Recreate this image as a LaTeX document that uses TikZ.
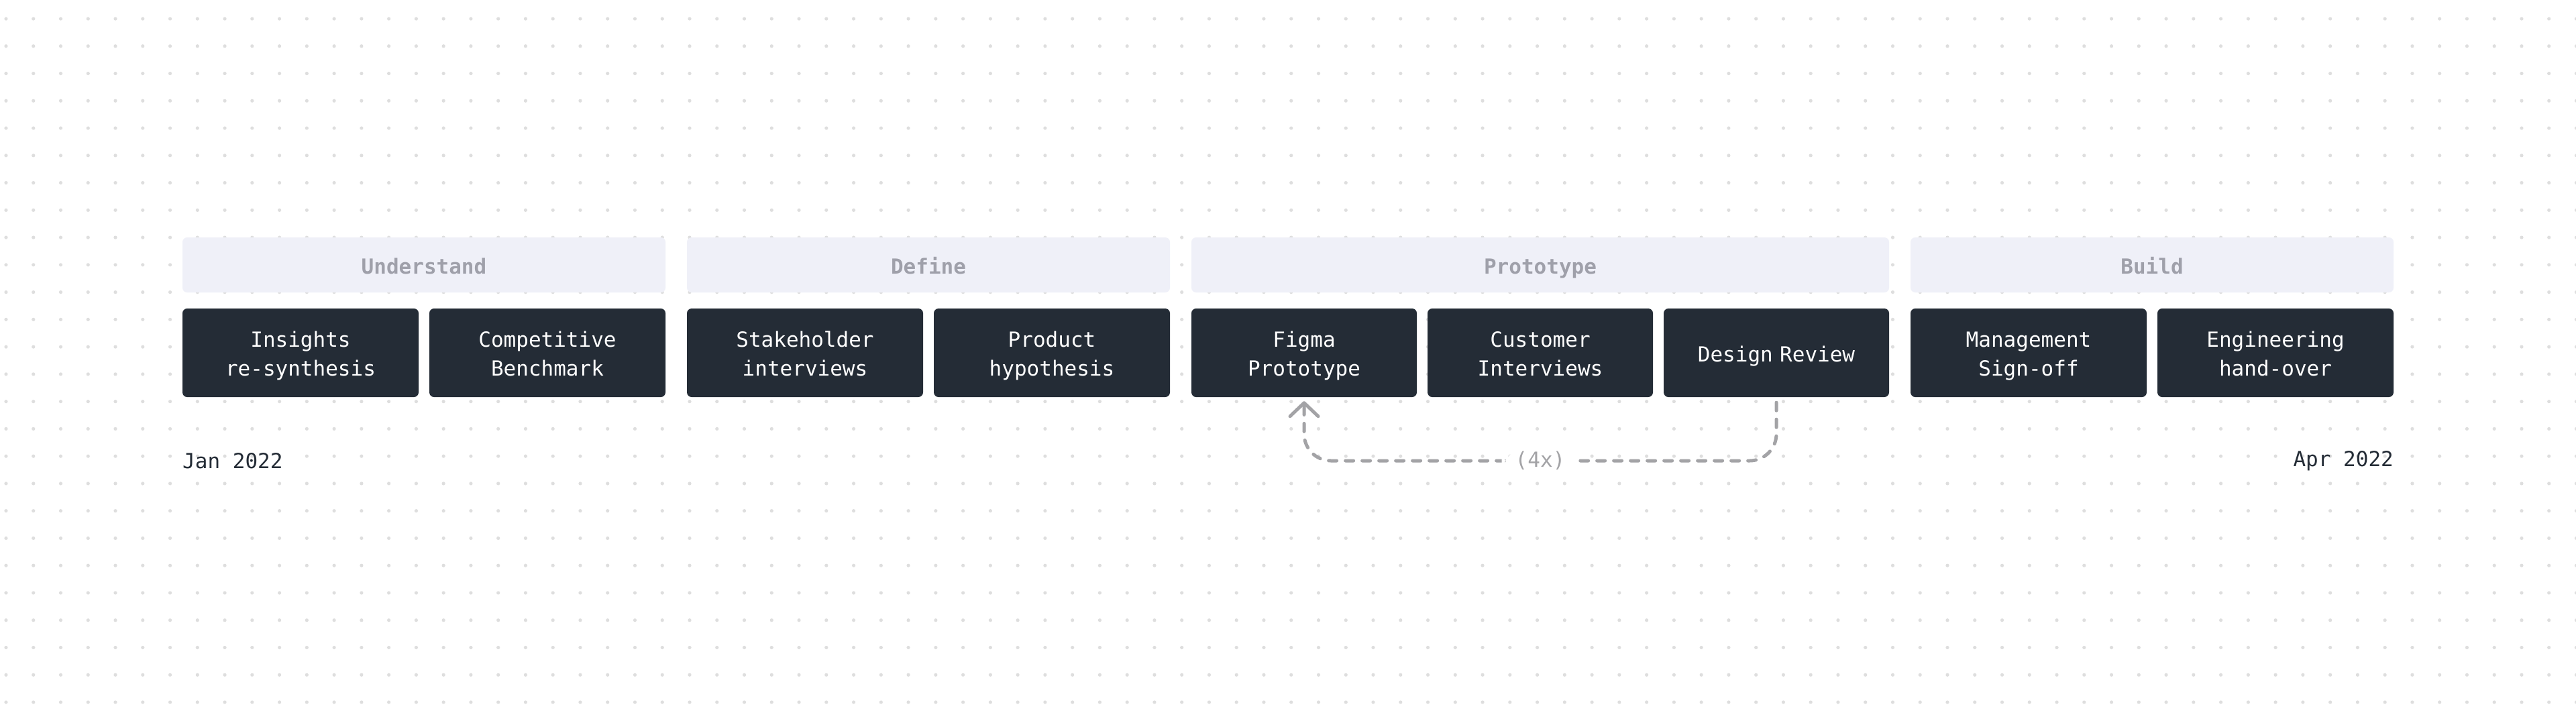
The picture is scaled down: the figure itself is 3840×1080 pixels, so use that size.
\documentclass[tikz,border=0pt]{standalone}
\usepackage{fontspec}
\setmonofont{DejaVu Sans Mono}
\usepackage{xcolor}
\usetikzlibrary{positioning,arrows.meta}

\definecolor{taskdark}{HTML}{242C36}
\definecolor{phasefill}{HTML}{EFF0F8}
\definecolor{phasetext}{HTML}{9FA0AA}
\definecolor{loopgray}{HTML}{A3A3A6}
\definecolor{gridgray}{HTML}{DEDEDE}

\begin{document}
\begin{tikzpicture}[x=1pt, y=-1pt,
    boxtext/.style={font=\ttfamily\fontsize{31}{43}\selectfont,
        execute at begin node={\rule{0pt}{34pt}}, execute at end node={\rule[-8pt]{0pt}{8pt}}},
    phase/.style={boxtext, rectangle, rounded corners=7pt, fill=phasefill, text=phasetext, minimum height=82pt, inner sep=0pt, font=\ttfamily\bfseries\fontsize{31}{43}\selectfont},
    task/.style={boxtext, rectangle, rounded corners=7pt, fill=taskdark, text=white, minimum height=132pt, inner sep=0pt, text width=320pt, align=center},
    datelabel/.style={text=taskdark, inner sep=0pt, font=\ttfamily\fontsize{31}{43}\selectfont},
    loopline/.style={draw=loopgray, line width=5pt, line cap=round, dash pattern=on 12pt off 13pt, rounded corners=40pt},
    looplabel/.style={fill=white, text=loopgray, inner xsep=20pt, inner ysep=6pt, font=\ttfamily\fontsize{31}{43}\selectfont}]

    % Canvas and dot grid
    \fill[white] (0,0) rectangle (3840,1080);
    \useasboundingbox (0,0) rectangle (3840,1080);
    \foreach \i in {0,...,94}
        \foreach \j in {0,...,25}
            \fill[gridgray] (9+\i*40.76, 28+\j*40.76) circle (2.6pt);

    % Phase headers
    \node[phase, minimum width=720pt] (understand) at (632,395) {Understand};
    \node[phase, minimum width=720pt] (define) at (1384,395) {Define};
    \node[phase, minimum width=1040pt] (prototype) at (2296,395) {Prototype};
    \node[phase, minimum width=720pt] (build) at (3208,395) {Build};

    % Understand tasks
    \node[task, minimum width=352pt] (insights) at (448,526) {Insights\\re-synthesis};
    \node[task, minimum width=352pt] (benchmark) at (816,526) {Competitive\\Benchmark};

    % Define tasks
    \node[task, minimum width=352pt] (stakeholder) at (1200,526) {Stakeholder\\interviews};
    \node[task, minimum width=352pt] (hypothesis) at (1568,526) {Product\\hypothesis};

    % Prototype tasks
    \node[task, minimum width=336pt] (figma) at (1944,526) {Figma\\Prototype};
    \node[task, minimum width=336pt] (customer) at (2296,526) {Customer\\Interviews};
    \node[task, minimum width=336pt] (review) at (2648,526) {Design Review};

    % Build tasks
    \node[task, minimum width=352pt] (signoff) at (3024,526) {Management\\Sign-off};
    \node[task, minimum width=352pt] (handover) at (3392,526) {Engineering\\hand-over};

    % Dates
    \node[datelabel, anchor=west] (start) at (272,687) {Jan 2022};
    \node[datelabel, anchor=east] (finish) at (3568,687) {Apr 2022};

    % Iteration loop
    \draw[loopline, -{Straight Barb[length=20pt, width=42pt, round]}]
        ([yshift=-8pt]review.south) -- (review.south |- start)
        -- node[looplabel] {(4x)} (figma.south |- start)
        -- ([yshift=-6pt]figma.south);
\end{tikzpicture}
\end{document}
